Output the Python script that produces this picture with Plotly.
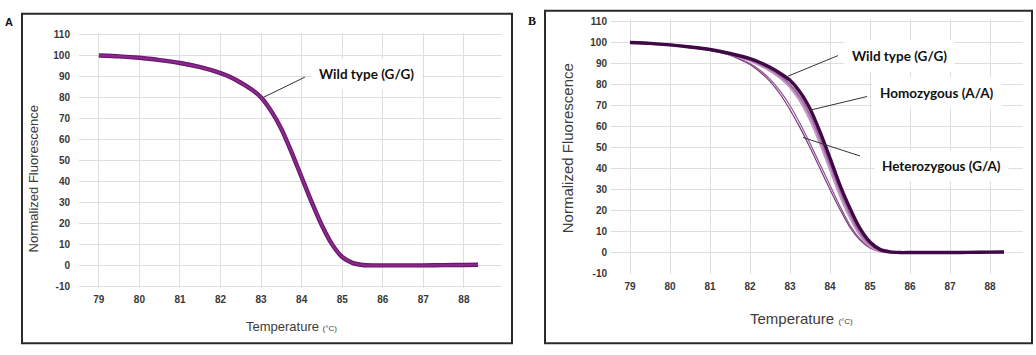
import plotly.graph_objects as go

# ---------------- data ----------------
temps = [79.0, 79.5, 80.0, 80.5, 81.0, 81.5, 82.0, 82.25, 82.5, 82.75, 83.0, 83.25, 83.5,
         83.75, 84.0, 84.25, 84.5, 84.75, 85.0, 85.25, 85.5, 85.75, 86.0, 86.5, 87.0, 87.5,
         88.0, 88.35]

a_wild = [100, 99.6, 98.9, 97.8, 96.4, 94.4, 91.6, 89.6, 87.0, 84.0, 80.0, 73.5, 65.0,
          54.0, 42.0, 30.0, 19.0, 10.0, 4.0, 1.2, 0.2, 0.0, 0.0, 0.0, 0.0, 0.1, 0.2, 0.3]

b_wild = [100, 99.6, 98.9, 97.9, 96.7, 94.8, 92.3, 90.5, 88.2, 85.4, 82.0, 76.5, 68.5,
          57.5, 45.0, 32.0, 21.0, 11.5, 5.0, 1.5, 0.3, 0.0, 0.0, 0.0, 0.0, 0.1, 0.2, 0.3]
b_homo1 = [100, 99.6, 98.9, 97.9, 96.6, 94.6, 91.8, 89.8, 87.3, 84.2, 80.0, 74.0, 65.5,
           54.5, 42.0, 29.5, 18.5, 9.5, 3.8, 1.0, 0.2, 0.0, 0.0, 0.0, 0.0, 0.1, 0.2, 0.3]
b_homo2 = [100, 99.6, 98.9, 97.9, 96.6, 94.5, 91.5, 89.4, 86.7, 83.4, 79.0, 72.5, 63.5,
           52.5, 40.0, 27.5, 17.0, 8.5, 3.2, 0.8, 0.1, 0.0, 0.0, 0.0, 0.0, 0.1, 0.2, 0.3]
b_het1 = [100, 99.6, 98.9, 97.8, 96.4, 94.0, 89.6, 86.0, 81.5, 75.5, 68.0, 59.5, 50.0,
          40.0, 30.0, 20.5, 12.0, 6.0, 2.2, 0.5, 0.0, 0.0, 0.0, 0.0, 0.0, 0.1, 0.2, 0.3]
b_het2 = [100, 99.6, 98.9, 97.8, 96.4, 94.1, 90.0, 86.8, 82.6, 77.0, 70.0, 61.5, 52.0,
          42.0, 32.0, 22.0, 13.0, 6.5, 2.5, 0.6, 0.0, 0.0, 0.0, 0.0, 0.0, 0.1, 0.2, 0.3]

x_ticks = [79, 80, 81, 82, 83, 84, 85, 86, 87, 88]
y_ticks = [-10, 0, 10, 20, 30, 40, 50, 60, 70, 80, 90, 100, 110]
y_ticktext = ["-10", "0", "10", "20", "30", "40", "50", "60", "70", "80", "90", "100", "110"]

y_title = "Normalized Fluorescence"
x_title = "Temperature <span style='font-size:8px'>(°C)</span>"

# ---------------- figure ----------------
W, H = 1036, 355
fig = go.Figure()

def line(x, y, color, width, xa, ya):
    fig.add_trace(go.Scatter(x=x, y=y, mode="lines", xaxis=xa, yaxis=ya,
                             line=dict(color=color, width=width, shape="spline", smoothing=0.6),
                             hoverinfo="skip", showlegend=False))

# Panel A
line(temps, a_wild, "#6a176d", 4.4, "x", "y")
line(temps, a_wild, "#8a2a8c", 2.0, "x", "y")

# Panel B
line(temps, b_het1, "#7a3a7e", 1.2, "x2", "y2")
line(temps, b_het2, "#8f5592", 1.2, "x2", "y2")
line(temps, b_homo2, "#c496c5", 3.0, "x2", "y2")
line(temps, b_homo1, "#a56aa7", 2.0, "x2", "y2")
line(temps, b_wild, "#3f0a44", 3.4, "x2", "y2")

def px_dom(a, b, total):
    return [a / total, b / total]

def py_dom(top, bottom):
    return [1 - bottom / H, 1 - top / H]

tickfont = dict(family="Arial, Liberation Sans, sans-serif", size=10, color="#383838",
                weight="bold")
grid = "#dedede"

axis_common = dict(showgrid=True, gridcolor=grid, gridwidth=1, zeroline=False,
                   showline=False, ticks="", tickfont=tickfont, fixedrange=True)

fig.update_layout(
    width=W, height=H, autosize=False,
    margin=dict(l=0, r=0, t=0, b=0),
    paper_bgcolor="white", plot_bgcolor="white",
    xaxis=dict(domain=px_dom(79, 502, W), range=[78.51, 88.94], tickvals=x_ticks,
               anchor="y", ticklabelstandoff=4, **axis_common),
    yaxis=dict(domain=py_dom(30, 291), range=[-10.6, 110.6], tickvals=y_ticks,
               ticktext=y_ticktext, anchor="x", ticklabelstandoff=8, **axis_common),
    xaxis2=dict(domain=px_dom(611, 1023, W), range=[78.525, 88.825], tickvals=x_ticks,
                anchor="y2", ticklabelstandoff=5, **axis_common),
    yaxis2=dict(domain=py_dom(15, 277), range=[-10.2, 111.4], tickvals=y_ticks,
                ticktext=y_ticktext, anchor="x2", ticklabelstandoff=3, **axis_common),
)

# panel frames
for (x0, y0, x1, y1) in [(22, 10, 512, 348), (545, 7, 1032, 348)]:
    fig.add_shape(type="rect", xref="paper", yref="paper",
                  x0=x0 / W, x1=x1 / W, y0=1 - y1 / H, y1=1 - y0 / H,
                  line=dict(color="#2a2a2a", width=2), fillcolor="rgba(0,0,0,0)", layer="above")

# pointer lines (data coords)
pointer = [("x", "y", 83.05, 80.0, 84.08, 89.7),
           ("x2", "y2", 82.95, 84.0, 84.2, 93.8),
           ("x2", "y2", 83.5, 67.8, 84.925, 74.3),
           ("x2", "y2", 83.325, 54.8, 84.75, 46.0)]
for xr, yr, x0, y0, x1, y1 in pointer:
    fig.add_shape(type="line", xref=xr, yref=yr, x0=x0, y0=y0, x1=x1, y1=y1,
                  line=dict(color="#333333", width=1))

labfont = dict(family="Lato, Open Sans, sans-serif", size=13.5, color="#111111")
labels = [("x", "y", 85.61, 91.1, "<b>Wild type (G/G)</b>"),
          ("x2", "y2", 85.725, 93.8, "<b>Wild type (G/G)</b>"),
          ("x2", "y2", 86.675, 76.1, "<b>Homozygous (A/A)</b>"),
          ("x2", "y2", 86.775, 41.3, "<b>Heterozygous (G/A)</b>")]
for xr, yr, x, y, t in labels:
    fig.add_annotation(xref=xr, yref=yr, x=x, y=y, text=t, showarrow=False,
                       xanchor="center", yanchor="middle",
                       font=labfont, bgcolor="white", borderpad=7)

def paper_text(px, py, text, font, angle=0):
    fig.add_annotation(xref="paper", yref="paper", x=px / W, y=1 - py / H, text=text,
                       textangle=angle, showarrow=False, xanchor="center", yanchor="middle",
                       font=font)

# axis titles
tfont_a = dict(family="Arial, Liberation Sans, sans-serif", size=13, color="#3c3c3c")
tfont_b = dict(family="Arial, Liberation Sans, sans-serif", size=15, color="#3c3c3c")
paper_text(33, 180, y_title, tfont_a, -90)
paper_text(567, 148, y_title, tfont_b, -90)
paper_text(291, 331, x_title, tfont_a)
paper_text(801, 323, x_title, tfont_b)

# panel letters
paper_text(9, 18, "<b>A</b>", dict(family="Arial, sans-serif", size=11, color="#111"))
paper_text(532, 17, "<b>B</b>", dict(family="Liberation Serif, serif", size=12, color="#111"))

fig.write_html("out.html", config={"responsive": False, "displayModeBar": False},
               post_script="document.body.style.margin='0';document.body.style.overflow='hidden';")
